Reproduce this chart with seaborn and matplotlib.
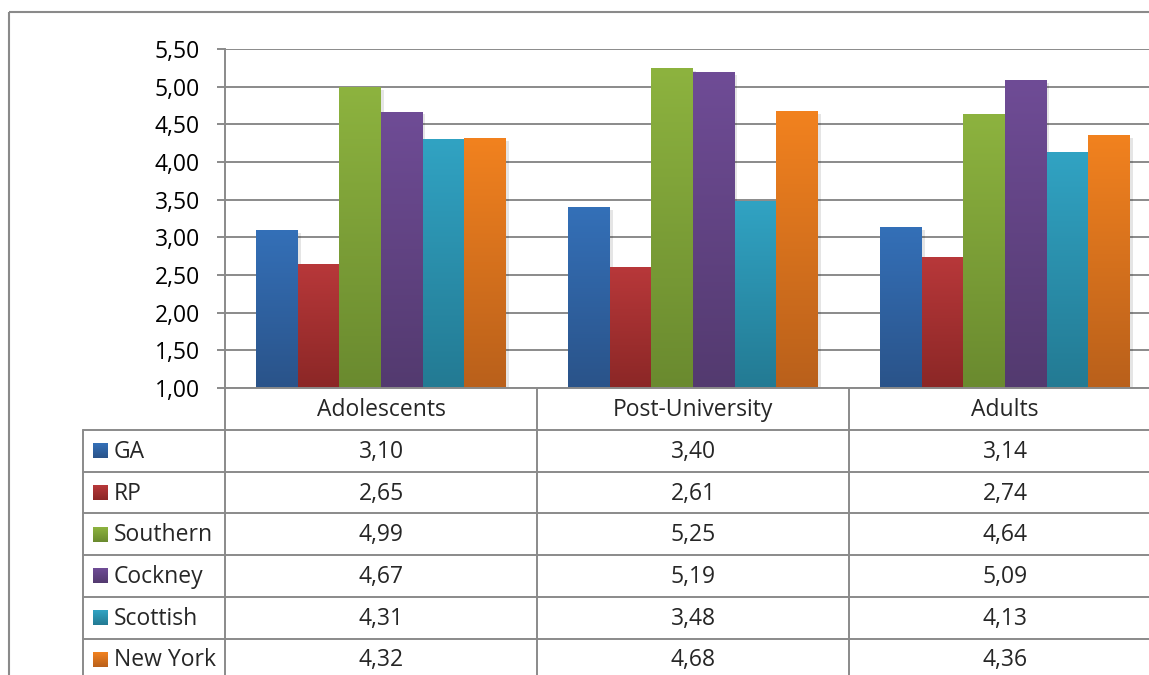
import numpy as np
import pandas as pd
import matplotlib
matplotlib.use('Agg')
import matplotlib.pyplot as plt
import matplotlib.patheffects as pe
from matplotlib.colors import LinearSegmentedColormap
from matplotlib.patches import Rectangle
from matplotlib.ticker import FuncFormatter, MultipleLocator
import seaborn as sns

# datos
grupos = ['Adolescents', 'Post-University', 'Adults']
acentos = ['GA', 'RP', 'Southern', 'Cockney', 'Scottish', 'New York']
ga = [3.10, 3.40, 3.14]
rp = [2.65, 2.61, 2.74]
southern = [4.99, 5.25, 4.64]
cockney = [4.67, 5.19, 5.09]
scottish = [4.31, 3.48, 4.13]
new_york = [4.32, 4.68, 4.36]
valores = [ga, rp, southern, cockney, scottish, new_york]

color_arriba = ['#3470b8', '#b8383a', '#8db33f', '#6f4c96', '#31a3c3', '#f2821f']
color_abajo = ['#2a5389', '#8b2726', '#6a8a2f', '#533a6f', '#237a93', '#b9601b']
gris = '#8a8a8a'

df = pd.DataFrame({
    'Grupo': grupos * len(acentos),
    'Acento': np.repeat(acentos, len(grupos)),
    'Valor': np.concatenate(valores),
})

sns.set_style('white')
plt.rcParams['font.family'] = ['Open Sans', 'DejaVu Sans']
fs = 16.5

W, H = 1149, 675
fig = plt.figure(figsize=(W / 100, H / 100), dpi=100)

# posiciones en pixeles
x_eje, x_fin = 225, 1161
y_top, y_base = 49, 388
ancho_cat = (x_fin - x_eje) / len(grupos)

ax = fig.add_axes([x_eje / W, (H - y_base) / H, (x_fin - x_eje) / W, (y_base - y_top) / H])
sns.barplot(data=df, x='Grupo', y='Valor', hue='Acento', order=grupos, hue_order=acentos,
            palette=color_arriba, saturation=1, width=0.8, legend=False, ax=ax)

ax.set_ylim(1, 5.5)
ax.set_xlim(-0.5, len(grupos) - 0.5)
y_min = ax.get_ylim()[0]

# degradado y sombra en cada barra
for i, cont in enumerate(ax.containers):
    cmap = LinearSegmentedColormap.from_list('g%d' % i, [color_arriba[i], color_abajo[i]])
    for barra in cont:
        barra.set_edgecolor('none')
        barra.set_path_effects([pe.SimplePatchShadow(offset=(2, -2), shadow_rgbFace='#000000', alpha=0.1),
                                pe.Normal()])
        x0 = barra.get_x()
        x1 = x0 + barra.get_width()
        y1 = barra.get_y() + barra.get_height()
        img = ax.imshow(np.linspace(0, 1, 256).reshape(-1, 1), cmap=cmap, aspect='auto',
                        extent=[x0, x1, y_min, y1], origin='upper', zorder=barra.get_zorder() + 0.1)
        img.set_clip_path(barra)

ax.set_ylim(1, 5.5)
ax.set_xlim(-0.5, len(grupos) - 0.5)
ax.yaxis.set_major_locator(MultipleLocator(0.5))
ax.yaxis.set_major_formatter(FuncFormatter(lambda v, p: f'{v:.2f}'.replace('.', ',')))
ax.yaxis.grid(True, color=gris, lw=1.4)
ax.set_axisbelow(True)
for lado in ['top', 'right']:
    ax.spines[lado].set_visible(False)
for lado in ['left', 'bottom']:
    ax.spines[lado].set_color(gris)
    ax.spines[lado].set_linewidth(1.4)
ax.tick_params(axis='y', length=6, width=1.4, color=gris, pad=12, labelsize=fs, labelcolor='black', left=True)
ax.tick_params(axis='x', length=0, labelbottom=False)
ax.set_xlabel('')
ax.set_ylabel('')

# tabla de datos
tab = fig.add_axes([0, 0, 1, 1], zorder=-1)
tab.set_xlim(0, W)
tab.set_ylim(H, 0)
tab.axis('off')

tab.add_patch(Rectangle((9, 12), W + 20, H + 20, fill=False, edgecolor=gris, lw=1.5))

y_cab = 430
alto_fila = 41.7
x_leyenda = 83
lw_t = 1.4

tab.plot([x_leyenda, W], [y_cab, y_cab], color=gris, lw=lw_t)
for k in range(1, len(acentos) + 1):
    y = y_cab + k * alto_fila
    tab.plot([x_leyenda, W], [y, y], color=gris, lw=lw_t)
tab.plot([x_leyenda, x_leyenda], [y_cab, H], color=gris, lw=lw_t)
for j in range(len(grupos) + 1):
    x = x_eje + j * ancho_cat
    tab.plot([x, x], [y_base, H], color=gris, lw=lw_t)

for j, g in enumerate(grupos):
    xc = x_eje + (j + 0.5) * ancho_cat
    tab.text(xc, (y_base + y_cab) / 2 + 1, g, ha='center', va='center', fontsize=fs)

for k, nombre in enumerate(acentos):
    yc = y_cab + (k + 0.5) * alto_fila
    cmap = LinearSegmentedColormap.from_list('l%d' % k, [color_arriba[k], color_abajo[k]])
    tab.imshow(np.linspace(0, 1, 64).reshape(-1, 1), cmap=cmap, aspect='auto',
               extent=[93, 108, yc + 7.5, yc - 7.5], origin='upper')
    tab.text(114, yc + 1, nombre, ha='left', va='center', fontsize=fs)
    for j in range(len(grupos)):
        xc = x_eje + (j + 0.5) * ancho_cat
        tab.text(xc, yc + 1, f'{valores[k][j]:.2f}'.replace('.', ','), ha='center', va='center', fontsize=fs)

tab.set_xlim(0, W)
tab.set_ylim(H, 0)

fig.savefig('out.png', dpi=100)
